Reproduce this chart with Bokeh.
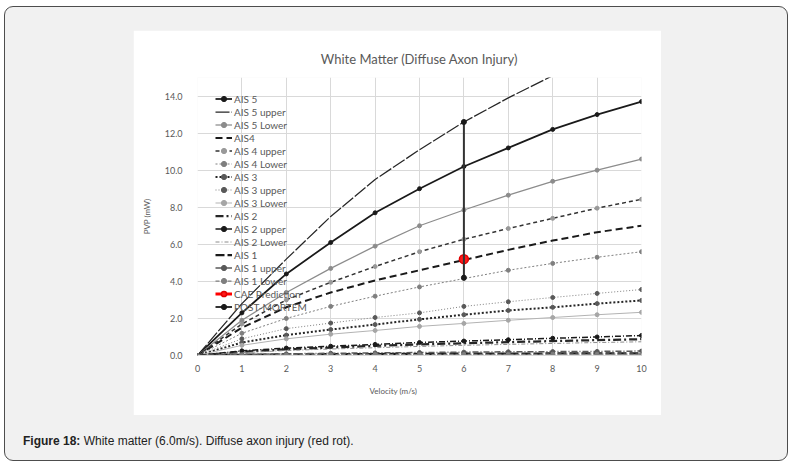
from bokeh.plotting import figure
from bokeh.layouts import column
from bokeh.models import (Range1d, FixedTicker, PrintfTickFormatter, Legend,
                          LegendItem, Title, Div)
from bokeh.embed import file_html
from bokeh.resources import INLINE

# ---- data: peak virtual power (mW) against impact velocity (m/s) ----
velocity = [0, 1, 2, 3, 4, 5, 6, 7, 8, 9, 10]

ais5 = [0, 2.3, 4.4, 6.1, 7.7, 9.0, 10.2, 11.2, 12.2, 13.0, 13.7]
ais5_upper = [0, 2.8, 5.2, 7.5, 9.5, 11.1, 12.6, 13.9, 15.1, 16.2, 17.2]
ais5_lower = [0, 1.9, 3.4, 4.7, 5.9, 7.0, 7.85, 8.65, 9.4, 10.0, 10.6]
ais4 = [0, 1.5, 2.6, 3.4, 4.05, 4.6, 5.15, 5.7, 6.2, 6.65, 7.0]
ais4_upper = [0, 1.7, 3.0, 3.95, 4.8, 5.6, 6.27, 6.85, 7.4, 7.95, 8.43]
ais4_lower = [0, 1.2, 2.0, 2.65, 3.2, 3.7, 4.15, 4.6, 4.97, 5.3, 5.6]
ais3 = [0, 0.7, 1.1, 1.4, 1.67, 1.95, 2.2, 2.43, 2.6, 2.8, 2.97]
ais3_upper = [0, 0.9, 1.45, 1.75, 2.05, 2.3, 2.65, 2.9, 3.13, 3.35, 3.56]
ais3_lower = [0, 0.55, 0.9, 1.15, 1.35, 1.57, 1.73, 1.9, 2.05, 2.2, 2.33]
ais2 = [0, 0.2, 0.33, 0.43, 0.52, 0.6, 0.66, 0.72, 0.78, 0.83, 0.88]
ais2_upper = [0, 0.25, 0.4, 0.5, 0.6, 0.7, 0.78, 0.85, 0.93, 1.0, 1.08]
ais2_lower = [0, 0.15, 0.27, 0.35, 0.42, 0.49, 0.55, 0.6, 0.65, 0.7, 0.74]
ais1 = [0, 0.04, 0.06, 0.07, 0.08, 0.09, 0.1, 0.1, 0.11, 0.12, 0.12]
ais1_upper = [0, 0.05, 0.09, 0.12, 0.14, 0.16, 0.18, 0.2, 0.21, 0.22, 0.24]
ais1_lower = [0, 0.02, 0.03, 0.04, 0.05, 0.05, 0.06, 0.06, 0.07, 0.07, 0.08]

cae_velocity = [6]
cae_pvp = [5.2]
postmortem_velocity = [6, 6]
postmortem_pvp = [4.2, 12.6]

x_ticks = [0, 1, 2, 3, 4, 5, 6, 7, 8, 9, 10]
y_ticks = [0, 2, 4, 6, 8, 10, 12, 14]

TXT = "#595959"
FONT = "Lato"

# white chart panel: 528 x 385, plot frame inset 64/20/47/60
p = figure(width=528, height=385, x_range=Range1d(0, 10), y_range=Range1d(0, 15),
           output_backend="svg", toolbar_location=None,
           min_border_left=64, min_border_right=20,
           min_border_top=47, min_border_bottom=60,
           margin=(23, 0, 0, 128))
p.border_fill_color = "white"
p.background_fill_color = "white"
p.outline_line_color = None

p.title.text = "White Matter (Diffuse Axon Injury)"
p.title.align = "center"
p.title.text_font = FONT
p.title.text_font_size = "13px"
p.title.text_font_style = "normal"
p.title.text_color = TXT
p.title.standoff = 22

# axes and grid
p.xaxis.ticker = FixedTicker(ticks=x_ticks)
p.yaxis.ticker = FixedTicker(ticks=y_ticks)
p.yaxis.formatter = PrintfTickFormatter(format="%.1f")
for ax in (p.xaxis, p.yaxis):
    ax.major_tick_line_color = None
    ax.minor_tick_line_color = None
    ax.major_label_text_font = FONT
    ax.major_label_text_font_size = "9px"
    ax.major_label_text_color = TXT
p.yaxis.axis_line_color = None
p.xaxis.axis_line_color = "#d9d9d9"
p.xaxis.major_label_standoff = 3
p.yaxis.major_label_standoff = 9
p.yaxis.axis_label = "PVP (mW)"
p.yaxis.axis_label_text_font = FONT
p.yaxis.axis_label_text_font_size = "8px"
p.yaxis.axis_label_text_font_style = "normal"
p.yaxis.axis_label_text_color = TXT
p.yaxis.axis_label_standoff = 10
p.xgrid.ticker = FixedTicker(ticks=x_ticks)
p.ygrid.ticker = FixedTicker(ticks=y_ticks)
p.grid.grid_line_color = "#d9d9d9"
p.grid.grid_line_width = 1

# horizontal axis title, set slightly left of centre
p.add_layout(Title(text="Velocity (m/s)", align="left", offset=172,
                   text_font=FONT, text_font_size="8px", text_font_style="normal",
                   text_color=TXT, standoff=18), "below")

# series styling: label, values, line colour, width, dash, marker colour
series = [
    ("AIS 5", ais5, "#1a1a1a", 1.75, "solid", "#1a1a1a"),
    ("AIS 5 upper", ais5_upper, "#262626", 1.25, "14 2", None),
    ("AIS 5 Lower", ais5_lower, "#8c8c8c", 1.25, "solid", "#8c8c8c"),
    ("AIS4", ais4, "#1a1a1a", 2, "7 4", None),
    ("AIS 4 upper", ais4_upper, "#333333", 1.5, "4 3", "#999999"),
    ("AIS 4 Lower", ais4_lower, "#7f7f7f", 1, "2 2", "#7f7f7f"),
    ("AIS 3", ais3, "#262626", 2, "2 2", "#595959"),
    ("AIS 3 upper", ais3_upper, "#7f7f7f", 1, "1 2", "#595959"),
    ("AIS 3 Lower", ais3_lower, "#b3b3b3", 1, "solid", "#a6a6a6"),
    ("AIS 2", ais2, "#262626", 2.25, "8 3 2 3", None),
    ("AIS 2 upper", ais2_upper, "#1a1a1a", 1.5, "6 2 1 2", "#1a1a1a"),
    ("AIS 2 Lower", ais2_lower, "#8c8c8c", 1, "4 2 1 2", None),
    ("AIS 1", ais1, "#1a1a1a", 2.25, "9 3", None),
    ("AIS 1 upper", ais1_upper, "#595959", 1.5, "6 2 1 2", "#595959"),
    ("AIS 1 Lower", ais1_lower, "#7f7f7f", 1.25, "4 2", "#7f7f7f"),
]

items = []
for label, ys, color, width, dash, mcolor in series:
    rs = [p.line(velocity, ys, line_color=color, line_width=width, line_dash=dash)]
    if mcolor is not None:
        rs.append(p.scatter(velocity, ys, marker="circle", size=4,
                            fill_color=mcolor, line_color=mcolor))
    items.append(LegendItem(label=label, renderers=rs))

cae_line = p.line(cae_velocity, cae_pvp, line_color="#ff0000", line_width=3)
cae_dot = p.scatter(cae_velocity, cae_pvp, marker="circle", size=9,
                    fill_color="#ff1a1a", line_color="#e00000", line_width=1.5)
items.append(LegendItem(label="CAE Prediction", renderers=[cae_line, cae_dot]))

pm_line = p.line(postmortem_velocity, postmortem_pvp, line_color="#333333", line_width=2)
pm_dot = p.scatter(postmortem_velocity, postmortem_pvp, marker="circle", size=5,
                   fill_color="#1a1a1a", line_color="#1a1a1a")
items.append(LegendItem(label="POST-MORTEM", renderers=[pm_line, pm_dot]))

legend = Legend(items=items, location=(18, 42), orientation="vertical",
                padding=0, margin=0, spacing=0,
                glyph_width=17, glyph_height=13, label_height=13,
                label_standoff=2,
                label_text_font=FONT, label_text_font_size="10px",
                label_text_color=TXT,
                border_line_color=None, background_fill_alpha=0)
p.add_layout(legend)

# figure caption under the chart panel
caption = Div(text="<b>Figure 18:</b> White matter (6.0m/s). Diffuse axon injury (red rot).",
              margin=(19, 0, 0, 18),
              styles={"font-family": "'Liberation Sans', Arial, sans-serif",
                      "font-size": "12px", "color": "#222222",
                      "line-height": "14px"})

page = column(p, caption, margin=(6, 0, 0, 4), width=784, height=455,
              styles={"background-color": "#f1f1f1",
                      "border": "1px solid #4d4d4d",
                      "border-radius": "9px",
                      "box-sizing": "border-box"})

open("out.html", "w").write(file_html(page, INLINE))
